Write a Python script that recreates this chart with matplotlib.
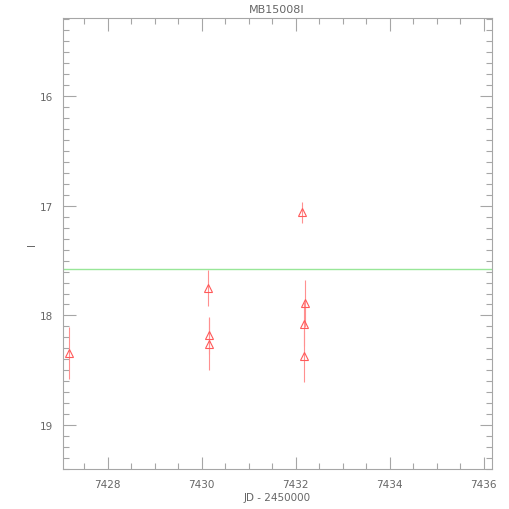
import numpy as np
import matplotlib
matplotlib.use("Agg")
import matplotlib.pyplot as plt
from matplotlib.ticker import MultipleLocator

# photometry
jd = [7427.17, 7430.13, 7430.16, 7430.16, 7432.14, 7432.20, 7432.18, 7432.18]
mag = [18.34, 17.75, 18.18, 18.26, 17.06, 17.89, 18.08, 18.37]
err = [0.235, 0.165, 0.17, 0.24, 0.095, 0.215, 0.20, 0.24]
baseline = 17.575

title = "MB15008I"
xlabel = "JD - 2450000"
ylabel = "I"

axcol = "#a6a6a6"
txtcol = "#666666"

fig = plt.figure(figsize=(5.1, 5.1), dpi=100)
ax = fig.add_axes([0.123, 0.078, 0.841, 0.885])

ax.axhline(baseline, color="#98e698", lw=1.0, zorder=1)
ax.errorbar(jd, mag, yerr=err, fmt="none", ecolor="#ff9090", elinewidth=0.8,
            capsize=0, zorder=2)
ax.plot(jd, mag, linestyle="none", marker="^", markersize=5.5, mfc="none",
        mec="#ff5a5a", mew=0.8, zorder=3)

ax.set_xlim(7427.04, 7436.17)
ax.set_ylim(19.40, 15.29)

ax.xaxis.set_major_locator(MultipleLocator(2))
ax.xaxis.set_minor_locator(MultipleLocator(0.5))
ax.yaxis.set_major_locator(MultipleLocator(1))
ax.yaxis.set_minor_locator(MultipleLocator(0.1))

ax.tick_params(which="both", direction="in", top=True, right=True,
               color=axcol, width=0.8, labelsize=7.5, labelcolor=txtcol, pad=7)
ax.tick_params(which="major", length=9)
ax.tick_params(which="minor", length=4.5)
for s in ax.spines.values():
    s.set_color(axcol)
    s.set_linewidth(0.8)

ax.set_title(title, fontsize=8, color=txtcol, pad=4)
ax.set_xlabel(xlabel, fontsize=7.5, color=txtcol, labelpad=2)
ax.set_ylabel(ylabel, fontsize=7.5, color=txtcol, labelpad=2)

fig.savefig("out.png", dpi=100)
